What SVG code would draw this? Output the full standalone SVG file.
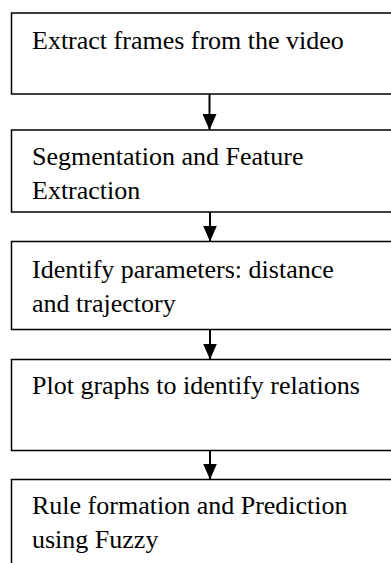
<svg xmlns="http://www.w3.org/2000/svg" width="391" height="563" viewBox="0 0 391 563">
  <defs>
    <style>
      .box { fill: #ffffff; stroke: #000000; stroke-width: 1.5; }
      .label { font-family: "Liberation Serif", "Times New Roman", serif; font-size: 26px; fill: #000000; }
      .flow { stroke: #000000; stroke-width: 2; fill: none; marker-end: url(#head); }
    </style>
    <marker id="head" viewBox="0 0 16 14" refX="16" refY="7" markerWidth="16" markerHeight="14" markerUnits="userSpaceOnUse" orient="auto">
      <path d="M0,0 L16,7 L0,14 Z" fill="#000000"/>
    </marker>
  </defs>
  <rect width="391" height="563" fill="#ffffff"/>

  <g id="step-extract-frames">
    <rect class="box" x="11.5" y="13" width="400" height="81"/>
    <text class="label" x="32" y="49">Extract frames from the video</text>
  </g>

  <g id="step-segmentation">
    <rect class="box" x="11.5" y="130" width="400" height="82"/>
    <text class="label" x="32" y="165">Segmentation and Feature</text>
    <text class="label" x="32" y="199">Extraction</text>
  </g>

  <g id="step-parameters">
    <rect class="box" x="11.5" y="241.5" width="400" height="88"/>
    <text class="label" x="32" y="277.5">Identify parameters: distance</text>
    <text class="label" x="32" y="311.5">and trajectory</text>
  </g>

  <g id="step-plot-graphs">
    <rect class="box" x="11.5" y="359.5" width="400" height="91"/>
    <text class="label" x="32" y="394">Plot graphs to identify relations</text>
  </g>

  <g id="step-rule-formation">
    <rect class="box" x="11.5" y="479.5" width="400" height="100"/>
    <text class="label" x="32" y="514">Rule formation and Prediction</text>
    <text class="label" x="32" y="548">using Fuzzy</text>
  </g>

  <g id="connectors">
    <line class="flow" x1="209.5" y1="94" x2="209.5" y2="130"/>
    <line class="flow" x1="210" y1="212" x2="210" y2="241.5"/>
    <line class="flow" x1="210" y1="329.5" x2="210" y2="359.5"/>
    <line class="flow" x1="210" y1="450.5" x2="210" y2="479.5"/>
  </g>
</svg>
